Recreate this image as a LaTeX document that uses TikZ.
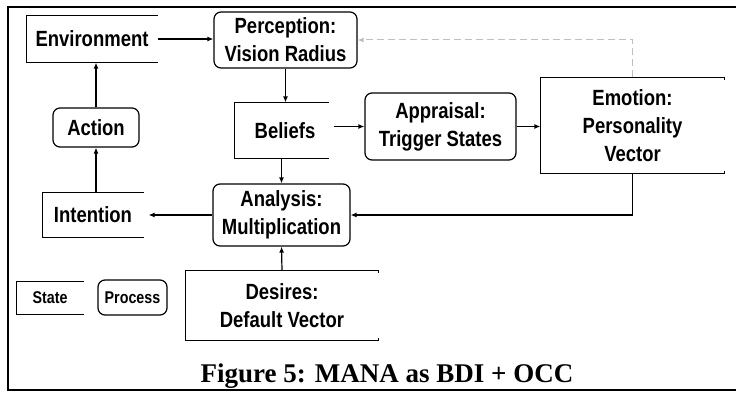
\documentclass[tikz,border=0pt]{standalone}
\usepackage{fontspec}
\setmainfont{Liberation Serif}
\setsansfont{Liberation Sans}[FakeStretch=0.84]
\usetikzlibrary{arrows.meta, positioning}

\begin{document}
\begin{tikzpicture}[
    x=1pt, y=-1pt,
    >={Latex[length=6pt,width=5pt]},
    line width=1.2pt,
    lbl/.style={font=\fontsize{22}{28}\selectfont\sffamily\bfseries, align=center, inner sep=0pt},
    proc/.style={lbl, draw, rounded corners=7pt},
    stat/.style={lbl},
    legend/.style={font=\fontsize{17}{20}\selectfont\sffamily\bfseries},
    every edge/.style={draw, ->}
]
\useasboundingbox (0,0) rectangle (736,393);

% outer frame
\draw[line width=2.4pt] (8,7) rectangle (760,390);

% states (open boxes)
\node[stat, minimum width=130pt, minimum height=46pt] (env) at (92,39) {Environment};
\node[stat, minimum width=93pt, minimum height=55pt] (beliefs) at (281.5,130.5) {\hspace*{7pt}Beliefs};
\node[stat, minimum width=183pt, minimum height=95pt] (emo) at (632.5,125.5) {Emotion:\\Personality\\Vector};
\node[stat, minimum width=100pt, minimum height=44pt] (intent) at (93,215) {Intention};
\node[stat, minimum width=192pt, minimum height=69pt] (desires) at (282,305.5) {Desires:\\Default Vector};

% processes
\node[proc, minimum width=143pt, minimum height=56pt] (perc) at (285.5,40) {Perception:\\Vision Radius};
\node[proc, minimum width=151pt, minimum height=67pt] (appr) at (440.5,126.5) {Appraisal:\\Trigger States};
\node[proc, minimum width=86pt, minimum height=39pt] (action) at (96,127.5) {Action};
\node[proc, minimum width=137pt, minimum height=62pt] (anal) at (281.5,215) {Analysis:\\Multiplication};

% legend
\node[stat, legend, minimum width=66pt, minimum height=32pt] (legstate) at (50,298) {State};
\node[proc, legend, minimum width=69pt, minimum height=35pt] (legproc) at (132.5,297.5) {Process};

\foreach \n in {env, beliefs, emo, intent, desires, legstate}
  \draw (\n.north east) -| (\n.south west) -- (\n.south east);
\draw (emo.north east) -- ++(0,3);
\draw (emo.south east) -- ++(0,-3);
\draw (desires.north east) -- ++(0,3);
\draw (desires.south east) -- ++(0,-3);

% arrows
\draw[->] (env.east) -- (env.east -| perc.west);
\draw[->] (perc.south) -- (perc.south |- beliefs.north);
\draw[->] ([xshift=5pt]beliefs.east |- appr.west) -- (appr.west);
\draw[->] (appr.east) -- (appr.east -| emo.west);
\draw[->] (emo.south) |- (anal.east);
\draw[->] (beliefs.south) -- (anal.north);
\draw[->] (desires.north) -- (anal.south);
\draw[->] (anal.west) -- ([xshift=5pt]intent.east);
\draw[->] (action.south |- intent.north) -- (action.south);
\draw[->] (action.north) -- (action.north |- env.south);
\draw[->, gray!50, dashed, dash pattern=on 7pt off 4pt, line width=1pt] (emo.north) |- (perc.east);

% caption
\node[anchor=base, font=\fontsize{27}{30}\selectfont\bfseries] (cap) at (387,382) {Figure 5: MANA as BDI + OCC};

\end{tikzpicture}
\end{document}
